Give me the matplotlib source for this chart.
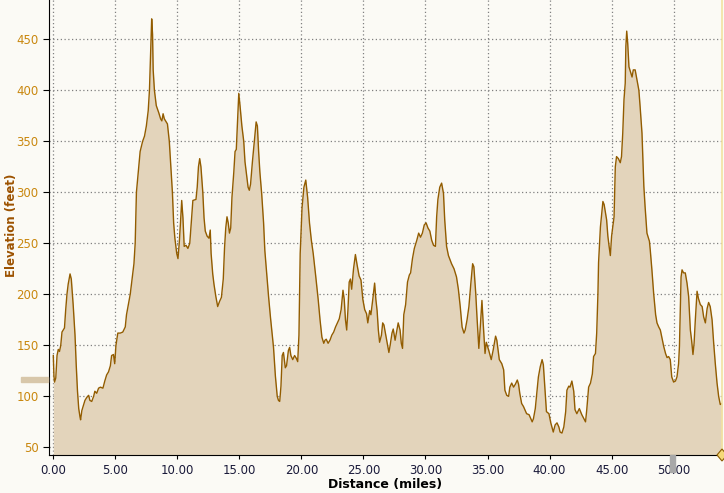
import numpy as np
import matplotlib
matplotlib.use("Agg")
import matplotlib.pyplot as plt
from matplotlib.patches import Rectangle, Polygon

# elevation profile (distance in miles, elevation in feet)
dist = [0.0, 0.05, 0.1, 0.2, 0.3, 0.4, 0.5, 0.6, 0.7, 0.8, 0.9, 1.0, 1.1, 1.2, 1.35, 1.45, 1.6, 1.75,
        1.85, 1.95, 2.05, 2.15, 2.2, 2.3, 2.45, 2.55, 2.7, 2.85, 2.95, 3.1, 3.25, 3.35, 3.5, 3.65, 3.8,
        4.0, 4.15, 4.3, 4.45, 4.6, 4.7, 4.85, 4.95, 5.05, 5.2, 5.4, 5.6, 5.8, 5.9, 6.05, 6.2, 6.35, 6.5,
        6.6, 6.7, 6.85, 7.0, 7.2, 7.35, 7.5, 7.65, 7.75, 7.85, 7.93, 8.0, 8.05, 8.15, 8.3, 8.5, 8.65,
        8.75, 8.85, 8.95, 9.05, 9.2, 9.35, 9.5, 9.6, 9.7, 9.8, 9.95, 10.05, 10.15, 10.25, 10.35, 10.45,
        10.55, 10.7, 10.85, 11.0, 11.15, 11.25, 11.5, 11.6, 11.7, 11.8, 11.9, 12.05, 12.15, 12.25, 12.4,
        12.55, 12.65, 12.72, 12.85, 12.95, 13.1, 13.25, 13.4, 13.55, 13.7, 13.8, 13.9, 14.0, 14.1, 14.2,
        14.3, 14.4, 14.55, 14.65, 14.75, 14.85, 14.95, 15.05, 15.2, 15.35, 15.45, 15.55, 15.7, 15.8,
        15.9, 16.05, 16.2, 16.35, 16.45, 16.55, 16.65, 16.8, 16.95, 17.05, 17.2, 17.35, 17.5, 17.65,
        17.75, 17.9, 18.05, 18.15, 18.25, 18.35, 18.45, 18.55, 18.7, 18.8, 18.95, 19.05, 19.15, 19.3,
        19.45, 19.6, 19.7, 19.8, 19.9, 20.05, 20.2, 20.35, 20.5, 20.65, 20.8, 20.95, 21.15, 21.35, 21.5,
        21.65, 21.8, 21.9, 22.0, 22.15, 22.3, 22.45, 22.6, 22.75, 22.9, 23.05, 23.2, 23.35, 23.45, 23.55,
        23.65, 23.75, 23.85, 23.95, 24.05, 24.2, 24.35, 24.5, 24.65, 24.8, 24.95, 25.1, 25.25, 25.35,
        25.5, 25.6, 25.75, 25.9, 26.0, 26.1, 26.2, 26.3, 26.45, 26.55, 26.65, 26.8, 26.95, 27.05, 27.15,
        27.3, 27.4, 27.55, 27.7, 27.8, 27.95, 28.05, 28.15, 28.25, 28.4, 28.55, 28.7, 28.8, 28.95, 29.1,
        29.3, 29.45, 29.6, 29.75, 29.9, 30.05, 30.2, 30.35, 30.5, 30.65, 30.8, 30.9, 31.0, 31.15, 31.3,
        31.45, 31.55, 31.7, 31.85, 32.1, 32.3, 32.5, 32.65, 32.8, 32.95, 33.1, 33.2, 33.35, 33.5, 33.65,
        33.8, 33.9, 34.05, 34.15, 34.3, 34.4, 34.55, 34.65, 34.8, 34.9, 35.1, 35.3, 35.45, 35.65, 35.75,
        35.95, 36.15, 36.3, 36.4, 36.55, 36.7, 36.8, 36.95, 37.1, 37.25, 37.4, 37.5, 37.6, 37.75, 37.9,
        38.15, 38.35, 38.6, 38.7, 38.85, 38.95, 39.1, 39.25, 39.4, 39.5, 39.65, 39.75, 39.95, 40.1, 40.3,
        40.45, 40.6, 40.75, 40.85, 41.0, 41.15, 41.3, 41.4, 41.55, 41.65, 41.8, 41.95, 42.05, 42.2, 42.4,
        42.6, 42.9, 43.0, 43.15, 43.3, 43.45, 43.55, 43.7, 43.8, 43.9, 43.95, 44.1, 44.3, 44.4, 44.6,
        44.7, 44.8, 44.9, 45.0, 45.2, 45.3, 45.4, 45.55, 45.7, 45.8, 45.9, 46.0, 46.1, 46.15, 46.22,
        46.3, 46.4, 46.55, 46.65, 46.75, 46.9, 47.05, 47.2, 47.3, 47.45, 47.6, 47.7, 47.85, 48.05, 48.12,
        48.25, 48.39, 48.55, 48.66, 48.8, 48.93, 49.1, 49.2, 49.35, 49.47, 49.6, 49.73, 49.85, 50.0,
        50.15, 50.27, 50.4, 50.47, 50.54, 50.6, 50.68, 50.8, 50.94, 51.08, 51.21, 51.35, 51.45, 51.56,
        51.65, 51.75, 51.89, 52.0, 52.15, 52.3, 52.42, 52.56, 52.7, 52.82, 52.95, 53.1, 53.23, 53.36,
        53.5, 53.63, 53.76, 53.9]
elev = [140, 120, 114, 118, 140, 146, 144, 150, 163, 165, 167, 185, 200, 210, 220, 215, 190, 160,
        130, 105, 88, 80, 77, 86, 92, 96, 99, 101, 96, 95, 100, 105, 103, 108, 109,
        108, 115, 121, 124, 130, 140, 141, 132, 150, 162, 162, 163, 168, 180, 190, 200, 215, 230,
        250, 300, 320, 340, 350, 355, 365, 380, 400, 440, 470, 455, 420, 400, 385, 378, 372,
        370, 377, 372, 370, 367, 350, 320, 300, 270, 255, 240, 235, 250, 270, 292, 275,
        247, 248, 245, 250, 275, 292, 293, 305, 325, 333, 325, 300, 275, 262, 257,
        255, 263, 240, 220, 210, 198, 188, 193, 197, 215, 245, 265, 276, 270, 260,
        265, 295, 320, 340, 342, 370, 397, 385, 365, 350, 330, 320, 305, 302,
        308, 330, 350, 369, 365, 340, 320, 298, 270, 243, 220, 198, 178, 160,
        148, 120, 100, 96, 95, 110, 140, 143, 128, 130, 145, 148, 140, 136,
        140, 137, 134, 160, 240, 285, 305, 312, 295, 270, 253, 240, 218, 195, 175,
        158, 152, 155, 156, 152, 155, 160, 163, 168, 172, 176, 185, 204, 195, 175,
        165, 185, 212, 215, 205, 225, 239, 228, 218, 214, 195, 185, 181, 172,
        184, 180, 195, 211, 195, 184, 165, 153, 160, 172, 170, 160, 150, 143, 150,
        162, 166, 155, 165, 172, 165, 152, 147, 180, 190, 212, 219, 221, 235, 245,
        253, 260, 256, 260, 268, 270, 265, 262, 253, 248, 247, 276, 293, 305, 309,
        299, 273, 247, 238, 230, 225, 217, 205, 188, 168, 162, 165, 175, 188, 210,
        230, 227, 201, 178, 147, 165, 194, 172, 142, 153, 145, 136, 145, 159, 155,
        136, 132, 126, 106, 101, 100, 109, 113, 109, 112, 116, 112, 103, 93, 90,
        83, 82, 75, 78, 88, 100, 119, 129, 136, 131, 103, 85, 83, 74, 65,
        72, 74, 70, 65, 64, 70, 85, 106, 110, 109, 115, 105, 87, 83, 88,
        82, 75, 87, 109, 113, 122, 139, 142, 162, 201, 231, 266, 291, 288, 273,
        257, 247, 238, 257, 276, 325, 335, 333, 329, 335, 358, 391, 407, 443, 458,
        446, 423, 417, 413, 420, 420, 410, 400, 384, 358, 306, 286, 260, 252, 243,
        224, 201, 180, 172, 168, 165, 155, 149, 142, 138, 139, 136, 119, 114,
        115, 119, 132, 149, 185, 217, 224, 221, 221, 211, 198, 165, 155, 141,
        152, 175, 203, 196, 190, 188, 178, 172, 186, 192, 188, 175, 152, 132,
        113, 100, 92, 93]

x_ticks = [0, 5, 10, 15, 20, 25, 30, 35, 40, 45, 50]
y_ticks = [50, 100, 150, 200, 250, 300, 350, 400, 450]

bg = '#FBFAF5'
fig = plt.figure(figsize=(7.24, 4.93), dpi=100, facecolor=bg)
ax = fig.add_axes([49 / 724, 38 / 493, 673 / 724, 455 / 493], facecolor=bg)

ymin = 42.5
ax.fill_between(dist, elev, ymin, color='#E3D4BB', lw=0, zorder=2)
ax.plot(dist, elev, color='#925C00', lw=1.0, zorder=3)

ax.set_xlim(0 - 4.3 / 12.4, 53.9)
ax.set_ylim(ymin, 488.5)
ax.set_xticks(x_ticks)
ax.set_xticklabels(['%.2f' % t for t in x_ticks])
ax.set_yticks(y_ticks)
ax.grid(True, color='#808080', linestyle=(0, (1, 2)), lw=0.9, zorder=1)

for s in ['top', 'right']:
    ax.spines[s].set_visible(False)
ax.spines['left'].set_color('black')
ax.spines['bottom'].set_color('black')
ax.tick_params(axis='y', labelsize=8.5, length=4, color='black', labelcolor='#C9870E')
ax.tick_params(axis='x', labelsize=8.5, length=3, color='black', labelcolor='#1A1A3A')

ax.set_xlabel('Distance (miles)', fontsize=9, fontweight='bold', color='black', labelpad=1)
ax.set_ylabel('Elevation (feet)', fontsize=8.5, fontweight='bold', color='#9C5200')
ax.yaxis.set_label_coords(-0.046, 0.504)

# small window decorations
fig.patches.append(Rectangle((21 / 724, 1 - 382 / 493), 27 / 724, 5 / 493,
                             transform=fig.transFigure, color='#D8C7AA', zorder=5))
fig.patches.append(Rectangle((670 / 724, 1 - 472 / 493), 5 / 724, 17 / 493,
                             transform=fig.transFigure, color='#A8A8A8', zorder=5))
fig.lines.append(plt.Line2D([722 / 724, 722 / 724], [38 / 493, 1], transform=fig.transFigure,
                            color='#F2E2A0', lw=1.2))
dx, dy = 5 / 724, 6 / 493
cx, cy = 722 / 724, 38 / 493
fig.patches.append(Polygon([(cx - dx, cy), (cx, cy + dy), (cx + dx, cy), (cx, cy - dy)],
                           closed=True, transform=fig.transFigure,
                           facecolor='#F5D878', edgecolor='#8A5A00', lw=0.8, zorder=6))

fig.savefig('out.png', dpi=100, facecolor=bg)
